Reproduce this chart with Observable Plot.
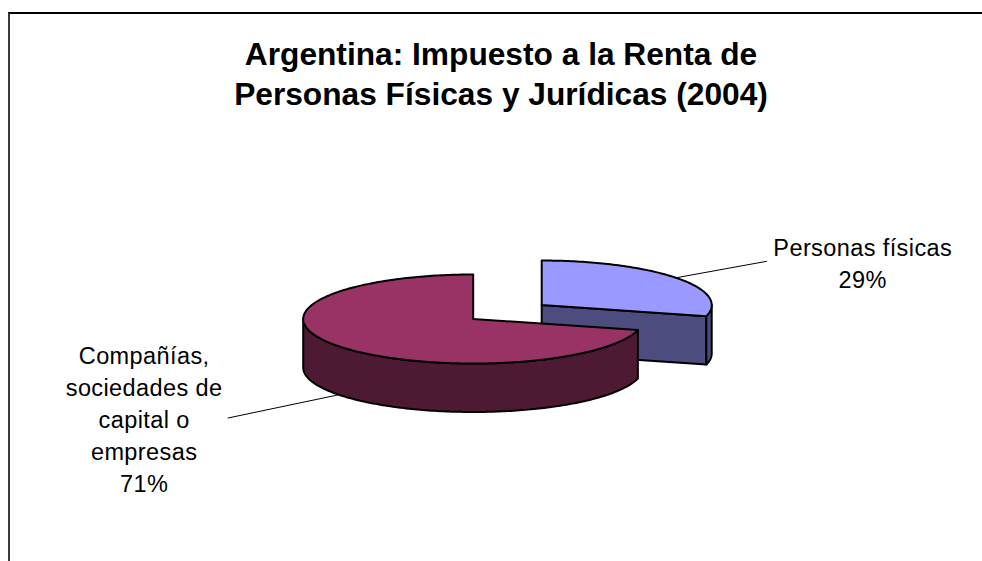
<!DOCTYPE html>
<html><head><meta charset="utf-8">
<script src="https://cdn.jsdelivr.net/npm/d3@7"></script>
<script src="https://cdn.jsdelivr.net/npm/@observablehq/plot@0.6"></script>
<style>
html,body{margin:0;padding:0;background:#fff;overflow:hidden;width:982px;height:561px;}
#wrap{position:relative;width:982px;height:561px;}
#chart{position:absolute;left:0;top:0;}
#frame{position:absolute;left:8px;top:12px;width:1000px;height:600px;border-top:2px solid #000;border-left:2px solid #3a3a3a;box-sizing:border-box;pointer-events:none;}
#title{position:absolute;left:0;top:33.8px;width:1002px;text-align:center;font:bold 31.7px/40.5px "Liberation Sans",Arial,sans-serif;color:#000;}
</style></head><body>
<div id="wrap"><div id="chart"></div><div id="frame"></div><div id="title">Argentina: Impuesto a la Renta de<br>Personas Físicas y Jurídicas (2004)</div></div>
<script>
// ---- data ----
const categories = ["Personas físicas", "Compañías, sociedades de capital o empresas"];
const values = [29, 71];
const labelTexts = ["Personas físicas", "Compañías,\nsociedades de\ncapital o\nempresas"];

// ---- style ----
const topColors = ["#9999ff", "#993366"];
const sideColors = ["#4c4c7f", "#4d1933"];

// ---- layout (pie units: radius = 1) ----
const W = 982, H = 561;
const CX = 472.7, CY = 318.5, R = 170;
const TILT = 0.262, DEPTH = 0.285;
const EXPLODE = [0.51, 0];
const LABEL_R = [2.39, 2.45], LABEL_RY = [0.42, 0.95];
const LEADER_INSET = [-0.565, 0.494];
const LEADER_Z = [0, DEPTH];

const total = d3.sum(values);
const arcs = d3.pie().sort(null).value(d => d)(values);

function pt(theta, z, off) {
  return {X: off.x + Math.cos(theta), Y: off.y - TILT * Math.sin(theta) + z};
}
function arcPts(t0, t1, z, off) {
  const n = Math.max(2, Math.ceil(Math.abs(t1 - t0) / (Math.PI / 180)));
  return d3.range(n + 1).map(i => pt(t0 + (t1 - t0) * i / n, z, off));
}
function close(p) { return p.concat([p[0]]); }

const slices = arcs.map((a, i) => {
  const thHigh = Math.PI / 2 - a.startAngle;
  const thLow = Math.PI / 2 - a.endAngle;
  const thMid = (thHigh + thLow) / 2;
  const off = {x: EXPLODE[i] * Math.cos(thMid), y: -EXPLODE[i] * TILT * Math.sin(thMid)};
  const c0 = {X: off.x, Y: off.y}, c1 = {X: off.x, Y: off.y + DEPTH};
  const polys = [];
  // radial faces
  if (Math.cos(thLow) > 1e-6) {
    const e0 = pt(thLow, 0, off), e1 = pt(thLow, DEPTH, off);
    polys.push({pts: close([c0, e0, e1, c1]), fill: sideColors[i]});
  }
  if (Math.cos(thHigh) < -1e-6) {
    const e0 = pt(thHigh, 0, off), e1 = pt(thHigh, DEPTH, off);
    polys.push({pts: close([c0, e0, e1, c1]), fill: sideColors[i]});
  }
  // outer curved side (front half, sin <= 0)
  const vLow = Math.max(thLow, -Math.PI), vHigh = Math.min(thHigh, 0);
  if (vHigh > vLow) {
    const topArc = arcPts(vLow, vHigh, 0, off);
    const botArc = arcPts(vHigh, vLow, DEPTH, off);
    polys.push({pts: close(topArc.concat(botArc)), fill: sideColors[i]});
  }
  // top face
  polys.push({pts: close([c0].concat(arcPts(thHigh, thLow, 0, off))), fill: topColors[i]});
  const label = {
    X: off.x + LABEL_R[i] * Math.cos(thMid),
    Y: off.y - LABEL_RY[i] * Math.sin(thMid),
    text: labelTexts[i] + "\n" + Math.round(values[i] / total * 100) + "%",
    name: categories[i]
  };
  const leader = [pt(thMid, LEADER_Z[i], off), {X: label.X + LEADER_INSET[i], Y: label.Y}];
  return {i, thMid, polys, label, leader};
});

// back-to-front
const order = slices.slice().sort((a, b) => Math.sin(b.thMid) - Math.sin(a.thMid));

const marks = [];
for (const s of order) {
  for (const p of s.polys) {
    marks.push(Plot.line(p.pts, {x: "X", y: "Y", fill: p.fill, stroke: "#000", strokeWidth: 2, strokeLinejoin: "round", curve: "linear"}));
  }
}
for (const s of slices) {
  marks.push(Plot.line(s.leader, {x: "X", y: "Y", stroke: "#000", strokeWidth: 1}));
}
marks.push(Plot.text(slices.map(s => s.label), {
  x: "X", y: "Y", text: "text", fontSize: 23.5, lineHeight: 1.36,
  textAnchor: "middle", lineAnchor: "middle", fill: "#000"
}));

const chart = Plot.plot({
  width: W, height: H, margin: 0,
  x: {axis: null, domain: [-CX / R, (W - CX) / R], range: [0, W]},
  y: {axis: null, domain: [-CY / R, (H - CY) / R], range: [0, H]},
  style: {fontFamily: '"Liberation Sans", Arial, sans-serif', letterSpacing: "0.4px", background: "transparent", overflow: "visible"},
  marks
});
document.getElementById("chart").appendChild(chart);
</script>
</body></html>
